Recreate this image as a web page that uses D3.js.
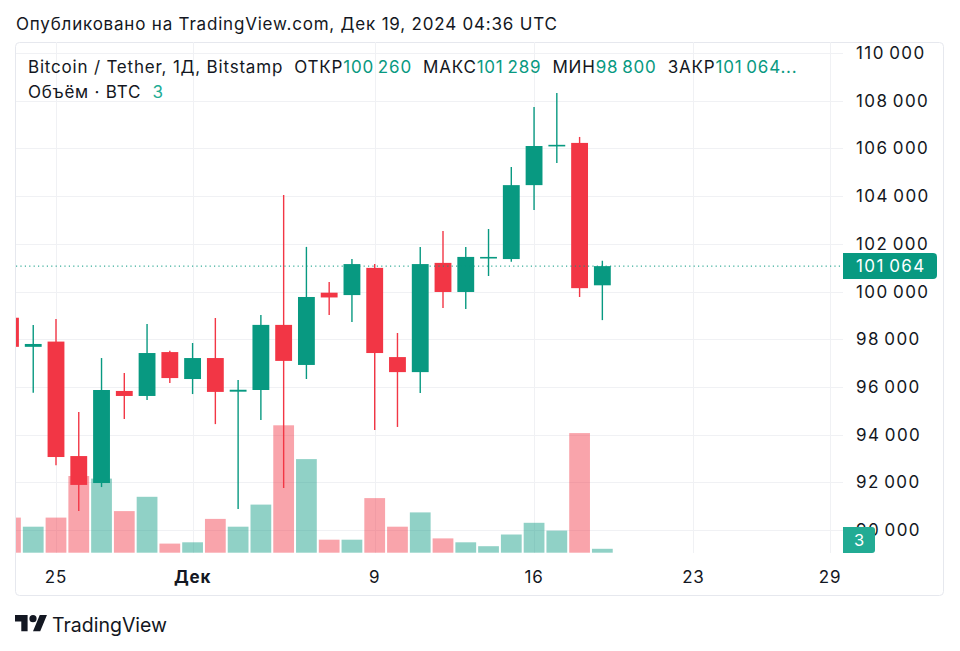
<!DOCTYPE html>
<html>
<head>
<meta charset="utf-8">
<script src="https://cdn.jsdelivr.net/npm/d3@7"></script>
<style>
  html, body { margin: 0; padding: 0; background: #fff; }
  svg { display: block; font-family: Inter, "Noto Sans", sans-serif; }
  .t { letter-spacing: 0.8px; }
  .p { letter-spacing: 1.4px; }
</style>
</head>
<body>
<svg id="chart" width="960" height="651"></svg>
<script>
// ---- data ----
const dates = ["2024-11-23","2024-11-24","2024-11-25","2024-11-26","2024-11-27","2024-11-28","2024-11-29","2024-11-30",
  "2024-12-01","2024-12-02","2024-12-03","2024-12-04","2024-12-05","2024-12-06","2024-12-07","2024-12-08","2024-12-09",
  "2024-12-10","2024-12-11","2024-12-12","2024-12-13","2024-12-14","2024-12-15","2024-12-16","2024-12-17","2024-12-18","2024-12-19"];
const open  = [98900, 97680, 97900, 93100, 91970, 95830, 95620, 97460, 96330, 97210, 95800, 95870, 98600, 96920, 99950, 99850, 100990, 97250, 96620, 101200, 99980, 101400, 101360, 104460, 106100, 106230, 100260];
const high  = [99000, 98600, 98850, 94950, 97210, 96580, 98640, 97520, 97840, 98890, 96290, 99010, 104050, 101870, 100400, 101360, 101150, 98260, 101870, 102540, 101870, 102620, 105220, 107740, 108320, 106480, 101289];
const low   = [97200, 95750, 92720, 90800, 91800, 94650, 95450, 96160, 95700, 94440, 90880, 94610, 91760, 96330, 99010, 98720, 94190, 94320, 95740, 99310, 99270, 100650, 101250, 103420, 105390, 99770, 98800];
const close = [97680, 97800, 93060, 91890, 95870, 95620, 97420, 96370, 97210, 95790, 95880, 98600, 97090, 99770, 99750, 101150, 97420, 96620, 101150, 99980, 101450, 101450, 104460, 106100, 106150, 100140, 101064];
const volume = [27, 20, 27, 59, 57, 32, 43, 7, 8, 26, 20, 37, 98, 72, 10, 10, 42, 20, 31, 11, 8, 5, 14, 23, 17, 92, 3];
const priceTicks = [90000, 92000, 94000, 96000, 98000, 100000, 102000, 104000, 106000, 108000, 110000];
const timeTicks = [["2024-11-25","25"],["2024-12-01","Дек"],["2024-12-09","9"],["2024-12-16","16"],["2024-12-23","23"],["2024-12-29","29"]];
const lastClose = 101064;
const lastVolume = 3;

// ---- setup ----
const UP = "#089981", DOWN = "#F23645";
const UPV = "rgba(8,153,129,0.45)", DOWNV = "rgba(242,54,69,0.45)";
const svg = d3.select("#chart");
const parse = d3.utcParse("%Y-%m-%d");
const plot = {left: 16, right: 843, top: 42, bottom: 553};

const x = d3.scaleUtc().domain([parse("2024-11-25"), parse("2024-12-29")]).range([56, 830]);
const y = d3.scaleLinear().domain([90000, 110000]).range([530, 53]);
const yv = d3.scaleLinear().domain([0, 100]).range([552.7, 422.7]);
const step = x(parse("2024-11-26")) - x(parse("2024-11-25"));
const bodyW = step * 0.74, volW = step - 2;

const data = dates.map((d, i) => ({date: parse(d), o: open[i], h: high[i], l: low[i], c: close[i], v: volume[i]}));
const fmt = v => d3.format(",")(v).replace(/,/g, "\u2009");

// header
svg.append("text").attr("class", "t").attr("x", 16).attr("y", 30).attr("font-size", 17).attr("fill", "#131722")
  .text("Опубликовано на TradingView.com, Дек 19, 2024 04:36 UTC");

// frame
svg.append("rect").attr("x", 15.5).attr("y", 42.5).attr("width", 928).attr("height", 553)
  .attr("rx", 4).attr("fill", "none").attr("stroke", "#e6e8ee");

// clip
svg.append("clipPath").attr("id", "clip").append("rect")
  .attr("x", plot.left).attr("y", plot.top).attr("width", plot.right - plot.left).attr("height", plot.bottom - plot.top);

const g = svg.append("g").attr("clip-path", "url(#clip)");

// grid
g.selectAll(".hg").data(priceTicks).enter().append("line")
  .attr("x1", plot.left).attr("x2", plot.right).attr("y1", d => Math.round(y(d)) + 0.5).attr("y2", d => Math.round(y(d)) + 0.5)
  .attr("stroke", "#f0f1f4");
g.selectAll(".vg").data(timeTicks).enter().append("line")
  .attr("x1", d => Math.round(x(parse(d[0]))) + 0.5).attr("x2", d => Math.round(x(parse(d[0]))) + 0.5)
  .attr("y1", plot.top).attr("y2", plot.bottom).attr("stroke", "#f0f1f4");

// volume
g.selectAll(".vol").data(data).enter().append("rect")
  .attr("x", d => x(d.date) - volW / 2).attr("width", volW)
  .attr("y", d => yv(d.v)).attr("height", d => yv(0) - yv(d.v))
  .attr("fill", d => d.c >= d.o ? UPV : DOWNV);

// wicks
g.selectAll(".wick").data(data).enter().append("line")
  .attr("x1", d => x(d.date)).attr("x2", d => x(d.date))
  .attr("y1", d => y(d.h)).attr("y2", d => y(d.l))
  .attr("stroke", d => d.c >= d.o ? UP : DOWN).attr("stroke-width", 1.4);

// bodies
g.selectAll(".body").data(data).enter().append("rect")
  .attr("x", d => x(d.date) - bodyW / 2).attr("width", bodyW)
  .attr("y", d => y(Math.max(d.o, d.c)))
  .attr("height", d => Math.max(1.6, Math.abs(y(d.o) - y(d.c))))
  .attr("fill", d => d.c >= d.o ? UP : DOWN);

// last price line
svg.append("line").attr("x1", plot.left).attr("x2", plot.right)
  .attr("y1", y(lastClose)).attr("y2", y(lastClose))
  .attr("stroke", UP).attr("stroke-width", 1).attr("stroke-dasharray", "1.2,3.2");

// price axis
svg.selectAll(".pt").data(priceTicks).enter().append("text").attr("class", "p")
  .attr("x", 856).attr("y", d => y(d) + 6).attr("font-size", 17).attr("fill", "#131722")
  .text(d => fmt(d));

// last price label
const ly = y(lastClose);
svg.append("path").attr("fill", UP)
  .attr("d", `M843,${ly-13}H933a4,4 0 0 1 4,4V${ly+9}a4,4 0 0 1 -4,4H843Z`);
svg.append("text").attr("class", "p").attr("x", 856).attr("y", ly + 6).attr("font-size", 17).attr("fill", "#fff").text(fmt(lastClose));

// volume label
svg.append("path").attr("fill", "#22ab94")
  .attr("d", `M843,527H872a3,3 0 0 1 3,3V550a3,3 0 0 1 -3,3H843Z`);
svg.append("text").attr("x", 859).attr("y", 546).attr("font-size", 16.5).attr("fill", "#fff")
  .attr("text-anchor", "middle").text(lastVolume);

// time axis
svg.selectAll(".tt").data(timeTicks).enter().append("text").attr("class", "t")
  .attr("x", d => x(parse(d[0]))).attr("y", 583).attr("text-anchor", "middle")
  .attr("font-size", 17).attr("fill", "#131722").attr("font-weight", d => d[1] === "Дек" ? 700 : 400)
  .text(d => d[1]);

// legend
const leg = svg.append("text").attr("class", "t").attr("x", 28).attr("y", 73).attr("font-size", 17).attr("fill", "#131722")
  .style("white-space", "pre");
leg.append("tspan").text("Bitcoin / Tether, 1Д, Bitstamp  ОТКР");
leg.append("tspan").attr("fill", UP).text(fmt(open[open.length - 1]));
leg.append("tspan").text("  МАКС");
leg.append("tspan").attr("fill", UP).text(fmt(high[high.length - 1]));
leg.append("tspan").text("  МИН");
leg.append("tspan").attr("fill", UP).text(fmt(low[low.length - 1]));
leg.append("tspan").text("  ЗАКР");
leg.append("tspan").attr("fill", UP).text(fmt(lastClose) + "...");

const leg2 = svg.append("text").attr("class", "t").attr("x", 28).attr("y", 98).attr("font-size", 17).attr("fill", "#131722").style("white-space", "pre");
leg2.append("tspan").text("Объём · BTC  ");
leg2.append("tspan").attr("fill", "#22ab94").text(lastVolume);

// footer logo
const logo = svg.append("g").attr("transform", "translate(15,611.5) scale(0.9)").attr("fill", "#131722");
logo.append("path").attr("d", "M14 22H7V11H0V4h14v18zM28 22h-8l7.5-18h8L28 22z");
logo.append("circle").attr("cx", 20).attr("cy", 8).attr("r", 4);
svg.append("text").attr("x", 52).attr("y", 632).attr("font-size", 19.5).attr("fill", "#131722").text("TradingView");
</script>
</body>
</html>
